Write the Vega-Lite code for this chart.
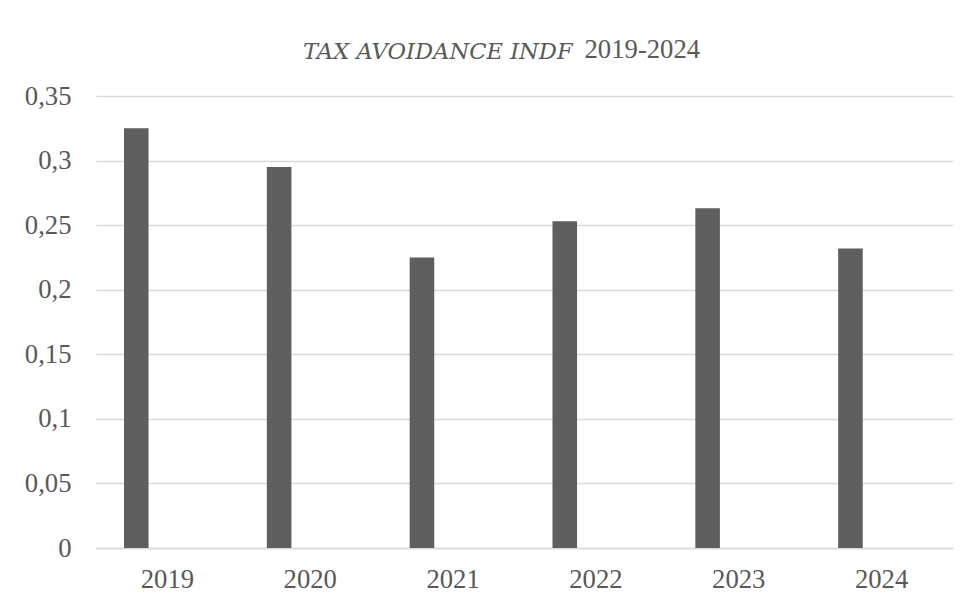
{
  "$schema": "https://vega.github.io/schema/vega-lite/v6.json",
  "autosize": {"type": "none"},
  "padding": {"left": 96, "top": 96, "right": 18, "bottom": 60},
  "width": 857,
  "height": 452,
  "background": "white",
  "title": {
    "text": "TAX AVOIDANCE INDF",
    "anchor": "start",
    "frame": "group",
    "dx": 207,
    "font": "DejaVu Serif",
    "fontSize": 22.6,
    "fontStyle": "italic",
    "fontWeight": "normal",
    "color": "#595959",
    "offset": -28
  },
  "data": {
    "values": [
      {"year": "2019", "series": "TA", "value": 0.325},
      {"year": "2020", "series": "TA", "value": 0.295},
      {"year": "2021", "series": "TA", "value": 0.225},
      {"year": "2022", "series": "TA", "value": 0.253},
      {"year": "2023", "series": "TA", "value": 0.263},
      {"year": "2024", "series": "TA", "value": 0.232}
    ]
  },
  "mark": {"type": "bar", "color": "#5f5f5f"},
  "encoding": {
    "x": {
      "field": "year",
      "type": "nominal",
      "scale": {"paddingInner": 0, "paddingOuter": 0},
      "axis": {
        "title": null,
        "labelAngle": 0,
        "ticks": false,
        "domainColor": "#d9d9d9",
        "domainWidth": 1.5,
        "labelFont": "Liberation Serif",
        "labelFontSize": 26.7,
        "labelColor": "#595959",
        "labelPadding": 18
      }
    },
    "xOffset": {
      "field": "series",
      "type": "nominal",
      "scale": {"domain": ["TA", "blank"], "paddingInner": 0.6055, "paddingOuter": 0.4495}
    },
    "y": {
      "field": "value",
      "type": "quantitative",
      "scale": {"domain": [0, 0.35], "nice": false},
      "axis": {
        "values": [0, 0.05, 0.1, 0.15, 0.2, 0.25, 0.3, 0.35],
        "labelExpr": "replace(format(datum.value, '.2~f'), '.', ',')",
        "domain": false,
        "ticks": false,
        "gridColor": "#d9d9d9",
        "gridWidth": 1.5,
        "labelFont": "Liberation Serif",
        "labelFontSize": 26.7,
        "labelColor": "#595959",
        "labelPadding": 25,
        "title": "2019-2024",
        "titleAngle": 0,
        "titleAlign": "left",
        "titleBaseline": "alphabetic",
        "titleX": 488,
        "titleY": -39,
        "titleFont": "Liberation Serif",
        "titleFontSize": 26.7,
        "titleFontWeight": "normal",
        "titleColor": "#595959"
      }
    }
  },
  "config": {
    "view": {"stroke": null}
  }
}
